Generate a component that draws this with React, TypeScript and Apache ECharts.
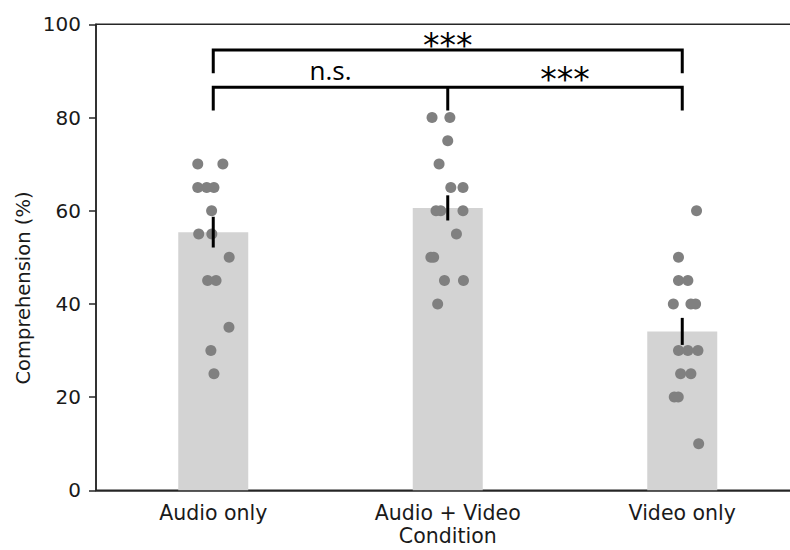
import React, { useEffect, useRef } from "react";
import * as echarts from "echarts";

const categories = ["Audio only", "Audio + Video", "Video only"];
const means = [55.4, 60.6, 34.1];
const errLow = [52.1, 57.9, 31.2];
const errHigh = [58.7, 63.3, 37.0];

const audioScores = [70, 70, 65, 65, 65, 60, 55, 55, 50, 45, 45, 35, 30, 25];
const audioJitter = [-0.066, 0.041, -0.066, -0.028, 0.003, -0.007, -0.062, -0.006, 0.068, -0.024, 0.012, 0.067, -0.01, 0.003];
const avScores = [80, 80, 75, 70, 65, 65, 60, 60, 60, 55, 50, 50, 45, 45, 40];
const avJitter = [-0.067, 0.009, 0, -0.037, 0.013, 0.065, -0.05, -0.03, 0.065, 0.037, -0.072, -0.06, -0.014, 0.067, -0.043];
const videoScores = [60, 50, 45, 45, 40, 40, 40, 30, 30, 30, 25, 25, 20, 20, 10];
const videoJitter = [0.061, -0.016, -0.016, 0.024, -0.038, 0.037, 0.057, -0.016, 0.024, 0.067, -0.007, 0.037, -0.034, -0.017, 0.07];

const bracketFrom = [0, 0];
const bracketTo = [2, 2];
const bracketY = [94.5, 86.5];
const bracketDrop = [5, 5];
const bracketMid = [-1, 1];

const annX = [1, 0.5, 1.5];
const annY = [92.0, 87.3, 84.7];
const annText = ["***", "n.s.", "***"];

const yTicks = [0, 20, 40, 60, 80, 100];

export default function App() {
  const ref = useRef<HTMLDivElement>(null);
  useEffect(() => {
    document.body.style.margin = "0";
    const chart = echarts.init(ref.current!, undefined, { renderer: "svg" });
    const points: number[][] = [];
    [audioScores, avScores, videoScores].forEach((arr, g) => {
      const jit = [audioJitter, avJitter, videoJitter][g];
      arr.forEach((v, i) => points.push([g + jit[i], v]));
    });
    const axisColor = "#262626";
    chart.setOption({
      animation: false,
      grid: {
        left: 96,
        right: -9.5,
        top: 24.3,
        bottom: 59.7,
        containLabel: false,
        outerBoundsMode: "none",
        show: true,
        borderColor: axisColor,
        borderWidth: 1.5,
      },
      xAxis: [
        {
          type: "category",
          data: categories,
          boundaryGap: true,
          axisLine: { lineStyle: { color: axisColor, width: 1.5 } },
          axisTick: { alignWithLabel: true, length: 7, lineStyle: { color: axisColor, width: 1.5 } },
          axisLabel: { color: "#1a1a1a", fontSize: 20.5, lineHeight: 22, fontFamily: "DejaVu Sans", margin: 12 },
          name: "Condition",
          nameLocation: "middle",
          nameGap: 35,
          nameMoveOverlap: false,
          nameTextStyle: { color: "#1a1a1a", fontSize: 20.5, lineHeight: 22, fontFamily: "DejaVu Sans" },
          splitLine: { show: false },
        },
        {
          type: "value",
          min: -0.5,
          max: 2.5,
          show: false,
          position: "bottom",
        },
      ],
      yAxis: {
        type: "value",
        min: yTicks[0],
        max: yTicks[yTicks.length - 1],
        interval: 20,
        axisLine: { show: true, onZero: false, lineStyle: { color: axisColor, width: 1.5 } },
        axisTick: { show: true, length: 7, lineStyle: { color: axisColor, width: 1.5 } },
        axisLabel: { color: "#1a1a1a", fontSize: 20, fontFamily: "DejaVu Sans", margin: 15 },
        splitLine: { show: false },
      },
      graphic: [
        {
          type: "text",
          x: 23,
          y: 288,
          rotation: Math.PI / 2,
          style: {
            text: "Comprehension (%)",
            fill: "#1a1a1a",
            font: '19.5px "DejaVu Sans"',
            align: "center",
            verticalAlign: "middle",
          },
        },
      ],
      series: [
        {
          type: "bar",
          xAxisIndex: 0,
          data: means,
          barWidth: 70,
          itemStyle: { color: "#d3d3d3" },
          z: 1,
        },
        {
          type: "scatter",
          xAxisIndex: 1,
          data: points,
          symbolSize: 11,
          itemStyle: { color: "#808080", opacity: 1 },
          z: 3,
        },
        {
          type: "custom",
          xAxisIndex: 0,
          data: categories.map((_, i) => [i, errLow[i], errHigh[i]]),
          z: 4,
          renderItem: (params: any, api: any) => {
            const a = api.coord([api.value(0), api.value(1)]);
            const b = api.coord([api.value(0), api.value(2)]);
            return {
              type: "line",
              shape: { x1: a[0], y1: a[1], x2: b[0], y2: b[1] },
              style: { stroke: "#000", lineWidth: 3 },
            };
          },
        },
        {
          type: "custom",
          xAxisIndex: 1,
          data: bracketFrom.map((f, i) => [f, bracketTo[i], bracketY[i], bracketDrop[i], bracketMid[i]]),
          z: 5,
          renderItem: (params: any, api: any) => {
            const f = api.value(0), t = api.value(1), y = api.value(2), d = api.value(3), m = api.value(4);
            const p1 = api.coord([f, y - d]);
            const p2 = api.coord([f, y]);
            const p3 = api.coord([t, y]);
            const p4 = api.coord([t, y - d]);
            const children: any[] = [
              {
                type: "polyline",
                shape: { points: [p1, p2, p3, p4] },
                style: { stroke: "#000", lineWidth: 3, fill: "none" },
              },
            ];
            if (m >= 0) {
              const q1 = api.coord([m, y]);
              const q2 = api.coord([m, y - d]);
              children.push({
                type: "line",
                shape: { x1: q1[0], y1: q1[1], x2: q2[0], y2: q2[1] },
                style: { stroke: "#000", lineWidth: 3 },
              });
            }
            return { type: "group", children };
          },
        },
        {
          type: "custom",
          xAxisIndex: 1,
          data: annX.map((x, i) => [x, annY[i], i]),
          z: 6,
          renderItem: (params: any, api: any) => {
            const p = api.coord([api.value(0), api.value(1)]);
            const txt = annText[params.dataIndex];
            const isStar = txt.indexOf("*") >= 0;
            return {
              type: "text",
              x: p[0],
              y: p[1],
              style: {
                text: txt,
                fill: "#000",
                font: isStar ? '33px "DejaVu Sans"' : '26px "Open Sans"',
                align: "center",
                verticalAlign: "bottom",
              },
            };
          },
        },
      ],
    });
    return () => chart.dispose();
  }, []);
  return <div ref={ref} style={{ width: 790, height: 550 }} />;
}
